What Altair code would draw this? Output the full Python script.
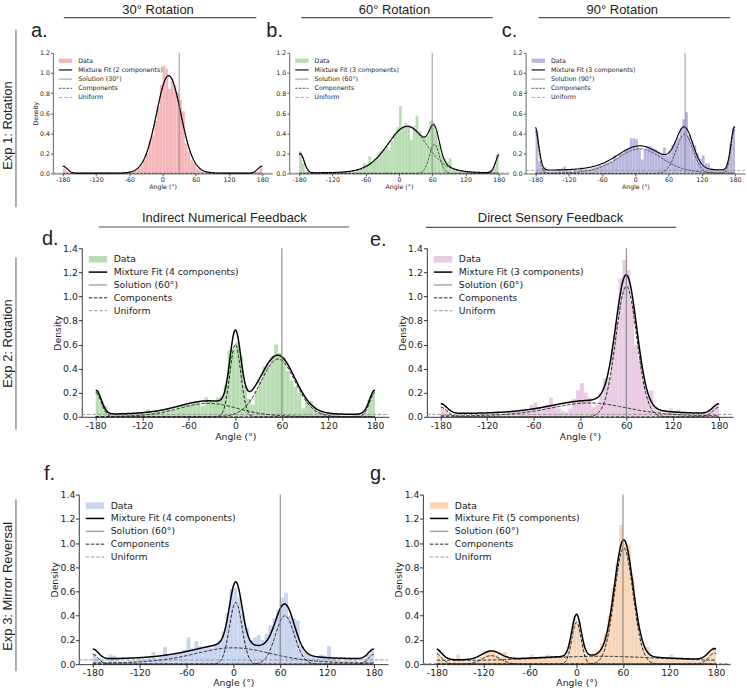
import altair as alt
import numpy as np
import pandas as pd

# ---------------- data ----------------
BIN_STARTS = list(range(-180, 180, 5))
XTICKS = [-180, -120, -60, 0, 60, 120, 180]

hist_a = [0.05, 0.02, 0, 0, 0, 0, 0, 0, 0, 0, 0, 0, 0, 0, 0, 0.01, 0.01, 0,
          0, 0, 0, 0.01, 0, 0.01, 0.01, 0.02, 0.03, 0.05, 0.08, 0.14, 0.2, 0.33,
          0.38, 0.52, 0.66, 0.88, 1.07, 1.04, 0.84, 0.95, 0.88, 0.8, 0.73, 0.62, 0.3, 0.22,
          0.13, 0.1, 0.05, 0.04, 0.02, 0.01, 0, 0, 0, 0, 0, 0, 0, 0.01,
          0, 0, 0, 0, 0, 0, 0, 0, 0, 0.01, 0.02, 0.05]
hist_b = [0.22, 0.1, 0.02, 0.01, 0, 0, 0, 0.01, 0.015, 0, 0.01, 0.015, 0.01, 0, 0, 0.01, 0.01, 0.01,
          0.02, 0.01, 0.02, 0.03, 0.04, 0.1, 0.09, 0.17, 0.12, 0.15, 0.19, 0.22, 0.24, 0.27,
          0.23, 0.32, 0.4, 0.46, 0.67, 0.46, 0.5, 0.48, 0.33, 0.47, 0.57, 0.42, 0.38, 0.36,
          0.37, 0.52, 0.51, 0.42, 0.3, 0.2, 0.15, 0.12, 0.15, 0.06, 0.04, 0.03, 0.02, 0.01,
          0.01, 0.01, 0, 0, 0, 0, 0.01, 0.01, 0.03, 0.03, 0.06, 0.19]
hist_c = [0.42, 0.12, 0.06, 0.06, 0.02, 0.02, 0.02, 0.02, 0.03, 0.05, 0.07, 0.03, 0.03, 0.02, 0.03, 0.03, 0.06, 0.04,
          0.04, 0.04, 0.05, 0.06, 0.07, 0.08, 0.09, 0.1, 0.11, 0.12, 0.18, 0.15, 0.19, 0.2,
          0.24, 0.25, 0.35, 0.35, 0.34, 0.25, 0.14, 0.24, 0.27, 0.27, 0.25, 0.24, 0.22, 0.2,
          0.26, 0.18, 0.22, 0.28, 0.32, 0.36, 0.45, 0.54, 0.61, 0.38, 0.33, 0.28, 0.2, 0.15,
          0.18, 0.1, 0.1, 0.05, 0.04, 0.04, 0.03, 0.04, 0.05, 0.12, 0.3, 0.45]
hist_d = [0.22, 0.13, 0.09, 0.03, 0.02, 0.02, 0.02, 0.02, 0.02, 0.03, 0.02, 0.03, 0.02, 0.06, 0.03, 0.04, 0.04, 0.05,
          0.07, 0.06, 0.06, 0.08, 0.09, 0.1, 0.1, 0.12, 0.11, 0.09, 0.16, 0.13, 0.12, 0.16,
          0.17, 0.26, 0.55, 0.56, 0.62, 0.5, 0.26, 0.15, 0.1, 0.22, 0.3, 0.42, 0.42, 0.5,
          0.6, 0.53, 0.5, 0.38, 0.3, 0.25, 0.2, 0.07, 0.14, 0.13, 0.08, 0.05, 0.04, 0.02,
          0.02, 0.02, 0.02, 0.01, 0.01, 0.01, 0.02, 0.02, 0.02, 0.04, 0.14, 0.2]
hist_e = [0.08, 0.06, 0.02, 0.01, 0.01, 0.01, 0.01, 0.01, 0.01, 0.02, 0.02, 0.02, 0.01, 0.02, 0.05, 0.02, 0.03, 0.03,
          0.05, 0.04, 0.04, 0.06, 0.05, 0.1, 0.12, 0.08, 0.07, 0.1, 0.16, 0.1, 0.07, 0.05,
          0.04, 0.07, 0.15, 0.22, 0.28, 0.2, 0.16, 0.08, 0.1, 0.18, 0.32, 0.33, 0.55, 0.78,
          1.15, 1.3, 1.22, 0.95, 0.6, 0.48, 0.3, 0.17, 0.22, 0.08, 0.05, 0.03, 0.03, 0.07,
          0.05, 0.06, 0.03, 0.02, 0.02, 0.02, 0.02, 0.02, 0.03, 0.06, 0.09, 0.1]
hist_f = [0.09, 0.05, 0.03, 0.02, 0.08, 0.07, 0.03, 0.02, 0.02, 0.03, 0.03, 0.03, 0.04, 0.04, 0.05, 0.1, 0.05, 0.06,
          0.14, 0.07, 0.08, 0.09, 0.1, 0.12, 0.22, 0.13, 0.19, 0.15, 0.13, 0.15, 0.13, 0.17,
          0.2, 0.27, 0.42, 0.62, 0.63, 0.55, 0.42, 0.3, 0.2, 0.22, 0.24, 0.2, 0.25, 0.32,
          0.38, 0.45, 0.55, 0.59, 0.4, 0.38, 0.36, 0.15, 0.1, 0.08, 0.06, 0.05, 0.08, 0.07,
          0.15, 0.05, 0.04, 0.03, 0.03, 0.03, 0.03, 0.03, 0.02, 0.04, 0.08, 0.13]
hist_g = [0.1, 0.06, 0.03, 0.02, 0.03, 0.08, 0.03, 0.02, 0.03, 0.03, 0.04, 0.06, 0.11, 0.11, 0.1, 0.08, 0.06, 0.1,
          0.05, 0.04, 0.04, 0.04, 0.05, 0.06, 0.08, 0.05, 0.04, 0.05, 0.08, 0.07, 0.06, 0.06,
          0.07, 0.1, 0.2, 0.38, 0.35, 0.18, 0.08, 0.06, 0.08, 0.12, 0.17, 0.25, 0.4, 0.63,
          0.83, 1.15, 1.0, 0.98, 0.72, 0.4, 0.22, 0.15, 0.14, 0.05, 0.04, 0.04, 0.04, 0.05,
          0.08, 0.04, 0.03, 0.03, 0.03, 0.03, 0.03, 0.03, 0.04, 0.05, 0.1, 0.14]

# fitted mixture components: (centre deg, peak density, width deg)
comps_a = [(11, 0.97, 22), (180, 0.07, 8)]
comps_b = [(15, 0.465, 35), (64, 0.29, 9), (-178, 0.19, 7)]
comps_c = [(8, 0.245, 40), (89, 0.39, 15), (179, 0.43, 6.5)]
comps_d = [(-35, 0.112, 38), (0, 0.6, 7), (55, 0.48, 22), (180, 0.2, 7)]
comps_e = [(12, 0.115, 50), (60, 1.085, 13.5), (180, 0.08, 8)]
comps_f = [(0, 0.135, 50), (3, 0.51, 8), (66, 0.40, 12), (180, 0.08, 7)]
comps_g = [(30, 0.065, 95), (0, 0.345, 6), (61, 0.96, 12), (-110, 0.07, 12), (178, 0.09, 8)]
uniform = {"a": 0.003, "b": 0.005, "c": 0.03, "d": 0.02, "e": 0.02, "f": 0.035, "g": 0.005}
solution = {"a": 30, "b": 60, "c": 90, "d": 60, "e": 60, "f": 60, "g": 60}
n_comp = {"a": 2, "b": 3, "c": 3, "d": 4, "e": 3, "f": 4, "g": 5}
colors = {"a": "#f6b5b7", "b": "#b9ddb3", "c": "#b9b6e0", "d": "#b9ddb3",
          "e": "#e9cbe3", "f": "#c8d5ef", "g": "#f8d6b9"}
hists = {"a": hist_a, "b": hist_b, "c": hist_c, "d": hist_d, "e": hist_e, "f": hist_f, "g": hist_g}
comps = {"a": comps_a, "b": comps_b, "c": comps_c, "d": comps_d, "e": comps_e, "f": comps_f, "g": comps_g}
for k in hists:
    assert len(hists[k]) == 72, k

ANG = np.arange(-180, 181, 1)


def vm(mu, h, s):
    return h * np.exp((np.cos(np.radians(ANG - mu)) - 1.0) / np.radians(s) ** 2)


ONE = pd.DataFrame({"k": [0]})
TFONT = "Liberation Sans"
AFONT = "DejaVu Sans"


def txt(s, x, y, size, font=TFONT, align="left", baseline="alphabetic", angle=0, color="#222"):
    kw = dict(text=s, align=align, baseline=baseline, fontSize=size, font=font, color=color)
    if angle:
        kw["angle"] = angle
    return alt.Chart(ONE).mark_text(**kw).encode(x=alt.value(x), y=alt.value(y))


def hrule(x1, x2, y, color, width, dash=None):
    kw = dict(color=color, strokeWidth=width)
    if dash:
        kw["strokeDash"] = dash
    return alt.Chart(ONE).mark_rule(**kw).encode(x=alt.value(x1), x2=alt.value(x2), y=alt.value(y))


def vrule(x, y1, y2, color, width):
    return alt.Chart(ONE).mark_rule(color=color, strokeWidth=width).encode(
        x=alt.value(x), y=alt.value(y1), y2=alt.value(y2))


def rect(x1, x2, y1, y2, color, opacity=1.0):
    return alt.Chart(ONE).mark_rect(color=color, opacity=opacity).encode(
        x=alt.value(x1), x2=alt.value(x2), y=alt.value(y1), y2=alt.value(y2))


# layout (absolute px of each plot area) ------------------------------
GEOM = {
    "a": dict(x0=52, y0=51, W=220, H=121, size="s", ytitle=True),
    "b": dict(x0=289, y0=51, W=220, H=121, size="s", ytitle=False),
    "c": dict(x0=526, y0=51, W=220, H=121, size="s", ytitle=False),
    "d": dict(x0=81, y0=248, W=308, H=169, size="m", ytitle=True),
    "e": dict(x0=427, y0=248, W=307, H=169, size="m", ytitle=True),
    "f": dict(x0=78, y0=493, W=310, H=170, size="l", ytitle=True),
    "g": dict(x0=423, y0=493, W=308, H=170, size="l", ytitle=True),
}
# axis spacing per row type: (font, tick, label pad, x-title pad, y-title pad)
AX = {"s": (6.3, 2.5, 1.0, 0.5, 0.5), "m": (9.3, 3.5, 1.0, 1.5, 0.5), "l": (9.3, 3.5, 0.5, 1.0, 0.5)}
# row frames (the first row's frame stops 4px short: its content adds that much below)
ROWS = [
    dict(y0=51, H=121, frame=(0, 747, 0, 206), label=("Exp 1: Rotation", 124, 28, 206), spacing=17, first="a"),
    dict(y0=248, H=169, frame=(0, 747, 210, 443), label=("Exp 2: Rotation", 343.5, 257, 430), spacing=38, first="d"),
    dict(y0=493, H=170, frame=(0, 747, 443, 688), label=("Exp 3: Mirror Reversal", 585, 498, 670), spacing=35, first="f"),
]
DECOR = {
    "a": dict(title=("30° Rotation", 157.5, 12, 63, 256, 15.7), letter=("a.", 30, 35)),
    "b": dict(title=("60° Rotation", 394.5, 12, 301, 493, 15.7), letter=("b.", 266, 35)),
    "c": dict(title=("90° Rotation", 623, 12, 539, 731, 15.7), letter=("c.", 502, 35)),
    "d": dict(title=("Indirect Numerical Feedback", 224, 221.5, 98, 349, 226.7), letter=("d.", 41, 245)),
    "e": dict(title=("Direct Sensory Feedback", 551, 221.5, 426, 677, 227), letter=("e.", 370, 246)),
    "f": dict(letter=("f.", 43, 478)),
    "g": dict(letter=("g.", 370, 478)),
}


def spacer(r):
    first = GEOM[r["first"]]
    ws = first["x0"] - r["spacing"]
    Y0 = r["y0"]
    ry = lambda y: y - Y0
    fx1, fx2, fy1, fy2 = r["frame"]
    s, cy, l1, l2 = r["label"]
    layers = [
        rect(fx1, fx2, ry(fy1), ry(fy2), "white", 0),
        txt(s, 6.6, ry(cy), 13, align="center", baseline="middle", angle=270),
        vrule(15, ry(l1), ry(l2), "#8c8c8c", 1.4),
    ]
    return alt.layer(*layers).properties(width=ws, height=r["H"])


def panel(key):
    g = GEOM[key]
    W, H, X0, Y0 = g["W"], g["H"], g["x0"], g["y0"]
    big = g["size"] != "s"
    fs, tks, lpad, xtp, ytp = AX[g["size"]]
    rx = lambda x: x - X0
    ry = lambda y: y - Y0
    ymax = 1.4 if big else 1.2
    yt = [round(0.2 * i, 1) for i in range(int(round(ymax / 0.2)) + 1)]
    xscale = alt.Scale(domain=[-198, 198], nice=False, zero=False)
    yscale = alt.Scale(domain=[0, ymax], nice=False, zero=True)
    common = dict(grid=False, domainColor="#222", domainWidth=0.9 if big else 0.7,
                  tickColor="#222", tickWidth=0.9 if big else 0.7, tickSize=tks,
                  labelColor="#222", labelFont=AFONT, labelFontSize=fs, titleFont=AFONT,
                  titleFontSize=fs, titleFontWeight="normal", titleColor="#222",
                  labelFlush=False, labelOverlap=False, labelPadding=lpad)
    xaxis = alt.Axis(values=XTICKS, labelExpr="'' + datum.value", title="Angle (°)",
                     titlePadding=xtp, **common)
    yaxis = alt.Axis(values=yt, format=".1f", title="Density" if g["ytitle"] else None,
                     titlePadding=ytp, **common)
    X = lambda f: alt.X(f, scale=xscale, axis=xaxis)
    Y = lambda f: alt.Y(f, scale=yscale, axis=yaxis)

    layers = []
    d = DECOR[key]

    hdf = pd.DataFrame({"start": BIN_STARTS, "end": [s + 5 for s in BIN_STARTS], "density": hists[key]})
    layers.append(alt.Chart(hdf).mark_rect(color=colors[key]).encode(
        x=X("start:Q"), x2="end:Q", y=Y("density:Q"), y2=alt.datum(0)))

    udf = pd.DataFrame({"u": [uniform[key]]})
    layers.append(alt.Chart(udf).mark_rule(color="#999", strokeWidth=1.0 if big else 0.8,
                                           strokeDash=[3.5, 1.8]).encode(
        y=Y("u:Q"), x=alt.value(0), x2=alt.value(W)))

    total = np.full(ANG.shape, float(uniform[key]))
    frames = []
    for j, (mu, h, s) in enumerate(comps[key]):
        v = vm(mu, h, s)
        total = total + v
        frames.append(pd.DataFrame({"angle": ANG, "val": np.round(v, 5), "comp": j}))
    cdf = pd.concat(frames, ignore_index=True)
    mdf = pd.DataFrame({"angle": ANG, "val": np.round(total, 5)})
    layers.append(alt.Chart(cdf).mark_line(color="#222", strokeWidth=1.0 if big else 0.75,
                                           strokeDash=[3.5, 1.6] if big else [2.6, 1.2]).encode(
        x=X("angle:Q"), y=Y("val:Q"), detail="comp:N"))
    layers.append(alt.Chart(mdf).mark_line(color="black", strokeWidth=1.5 if big else 1.1).encode(
        x=X("angle:Q"), y=Y("val:Q")))
    sdf = pd.DataFrame({"s": [solution[key]]})
    layers.append(alt.Chart(sdf).mark_rule(color="#808080", strokeWidth=1.0 if big else 0.8).encode(
        x=X("s:Q"), y=alt.value(0), y2=alt.value(H)))

    # legend
    if big:
        px1, px2, tx, ly0, step, ph = 7, 25.5, 32, 11, 12.9, 6.5
    else:
        px1, px2, tx, ly0, step, ph = 6, 19.4, 25.4, 8, 9.2, 4.2
    labels = ["Data", f"Mixture Fit ({n_comp[key]} components)", f"Solution ({solution[key]}°)",
              "Components", "Uniform"]
    ys = [ly0 + step * i for i in range(5)]
    layers.append(rect(px1, px2, ys[0] - ph / 2, ys[0] + ph / 2, colors[key]))
    layers.append(hrule(px1, px2, ys[1], "black", 1.5 if big else 1.1))
    layers.append(hrule(px1, px2, ys[2], "#808080", 1.0 if big else 0.8))
    layers.append(hrule(px1, px2, ys[3], "#222", 1.0 if big else 0.75, [3.5, 1.6] if big else [2.6, 1.2]))
    layers.append(hrule(px1, px2, ys[4], "#999", 1.0 if big else 0.8, [3.5, 1.8]))
    for lab, yy in zip(labels, ys):
        layers.append(txt(lab, tx, yy, fs, font=AFONT, baseline="middle"))

    # decorations
    if "title" in d:
        s, cx, by, l1, l2, ly = d["title"]
        layers.append(txt(s, rx(cx), ry(by), 13, align="center"))
        layers.append(hrule(rx(l1), rx(l2), ry(ly), "#555", 1.2))
    if "letter" in d:
        s, lx, by = d["letter"]
        layers.append(txt(s, rx(lx), ry(by), 20))

    return alt.layer(*layers).properties(width=W, height=H)


row1 = alt.hconcat(spacer(ROWS[0]), panel("a"), panel("b"), panel("c"), spacing=ROWS[0]["spacing"], bounds="flush")
row2 = alt.hconcat(spacer(ROWS[1]), panel("d"), panel("e"), spacing=ROWS[1]["spacing"], bounds="flush")
row3 = alt.hconcat(spacer(ROWS[2]), panel("f"), panel("g"), spacing=ROWS[2]["spacing"], bounds="flush")

chart = alt.vconcat(row1, row2, row3, spacing=0, bounds="full").properties(
    padding=0
).configure_view(stroke="transparent")

chart.save("out.html", embed_options={"renderer": "svg", "actions": False})
